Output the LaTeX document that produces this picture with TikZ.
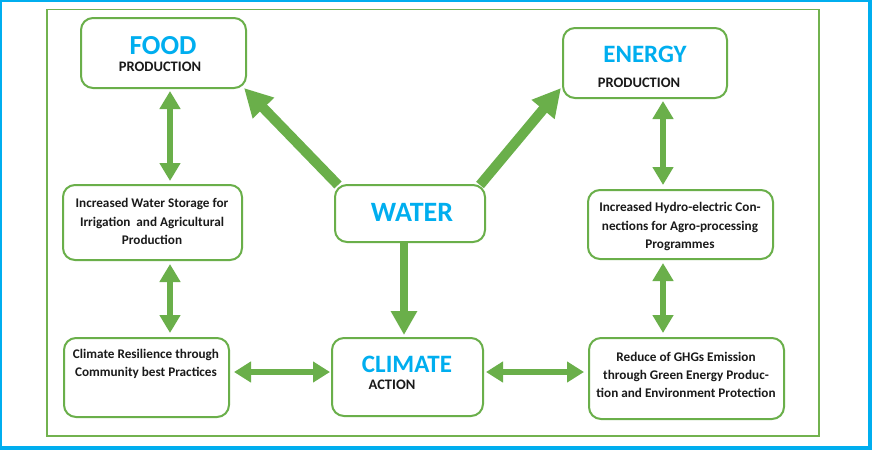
\documentclass[tikz,border=0pt]{standalone}
\usepackage{fontspec}
\setmainfont{Carlito}
\usetikzlibrary{arrows.meta}
\definecolor{grn}{HTML}{6AAF4A}
\definecolor{frm}{HTML}{72B24F}
\definecolor{sky}{HTML}{00AEEF}
\definecolor{ink}{HTML}{1A1A1A}
\pgfdeclarelayer{back}
\pgfdeclarelayer{mid}
\pgfsetlayers{back,mid,main}
\tikzset{
  box/.style={draw=grn, line width=2pt, rounded corners=12pt, fill=white, inner sep=0pt},
  big/.style={text=sky, font=\fontsize{27.5}{30}\selectfont\bfseries, inner sep=0pt},
  small/.style={text=ink, font=\fontsize{14.5}{15}\selectfont\bfseries, inner sep=0pt},
  body/.style={text=ink, font=\fontsize{13.2}{18.2}\selectfont\bfseries, align=center, inner sep=0pt},
  dbl/.style={draw=grn, line width=6pt, {Triangle[width=20pt,length=18pt]}-{Triangle[width=20pt,length=18pt]}},
  hdbl/.style={draw=grn, line width=5.5pt, {Triangle[width=20pt,length=17pt]}-{Triangle[width=20pt,length=17pt]}},
  sgl/.style={draw=grn, line width=8pt, -{Triangle[width=25pt,length=24pt]}},
  diag/.style={draw=grn, line width=10pt, -{Triangle[width=28pt,length=28pt]}},
}
\begin{document}
\begin{tikzpicture}[x=1pt,y=-1pt]
\useasboundingbox (0,0) rectangle (872,450);
% boxes
\node[box, minimum width=165pt, minimum height=70pt] (food) at (163.5,53) {};
\node[box, minimum width=164pt, minimum height=70pt] (energy) at (645,63) {};
\node[box, minimum width=150pt, minimum height=57pt] (water) at (410,213.5) {};
\node[box, minimum width=151pt, minimum height=78pt] (climate) at (407.5,377) {};
\node[box, minimum width=179pt, minimum height=75pt] (storage) at (152.5,222.5) {};
\node[box, minimum width=185pt, minimum height=69pt] (hydro) at (680.5,224.5) {};
\node[box, minimum width=165pt, minimum height=79pt] (resil) at (146.5,377.5) {};
\node[box, minimum width=195pt, minimum height=81pt] (reduce) at (686.5,378.5) {};
% texts
\node[big] (foodt) at (163,46) {FOOD};
\node[small] (foodp) at (160,66.5) {PRODUCTION};
\node[big, font=\fontsize{25}{30}\selectfont\bfseries] (energyt) at (645,54) {ENERGY};
\node[small] (energyp) at (639,82.5) {PRODUCTION};
\node[big, font=\fontsize{28}{30}\selectfont\bfseries] (watert) at (412,212.5) {WATER};
\node[big, font=\fontsize{25}{30}\selectfont\bfseries] (climatet) at (407,364.5) {CLIMATE};
\node[small] (climatea) at (392,384.5) {ACTION};
\node[body] (storaget) at (152,221.5) {Increased Water Storage for\\Irrigation\ \ and Agricultural\\Production};
\node[body] (hydrot) at (680,226.5) {Increased Hydro-electric Con-\\nections for Agro-processing\\Programmes};
\node[body] (resilt) at (146,364) {Climate Resilience through\\Community best Practices};
\node[body] (reducet) at (686,375) {Reduce of GHGs Emission\\through Green Energy Produc-\\tion and Environment Protection};
% frames
\begin{pgfonlayer}{back}
\fill[sky] (0,0) rectangle (872,450);
\fill[white] (2,2) rectangle (868,446);
\draw[frm, line width=1.8pt] (47,9.5) rectangle (819,436);
\end{pgfonlayer}
% connectors
\begin{pgfonlayer}{mid}
\draw[dbl, shorten <=2pt, shorten >=3pt] ([xshift=6.5pt]food.south) -- ([xshift=17.5pt]storage.north);
\draw[dbl, shorten <=3pt, shorten >=4pt] ([xshift=17.5pt]storage.south) -- ([xshift=23.5pt]resil.north);
\draw[dbl, shorten <=2pt, shorten >=4pt] ([xshift=18pt]energy.south) -- ([xshift=-17.5pt]hydro.north);
\draw[dbl, shorten <=3pt, shorten >=4pt] ([xshift=-17.5pt]hydro.south) -- ([xshift=-23.5pt]reduce.north);
\draw[hdbl, shorten <=4pt, shorten >=1pt] ([yshift=5.5pt]resil.east) -- ([yshift=5pt]climate.west);
\draw[hdbl, shorten <=2pt, shorten >=4pt] ([yshift=5pt]climate.east) -- ([yshift=6.5pt]reduce.west);
\draw[sgl, shorten >=2pt] ([xshift=-6pt]water.south) -- ([xshift=-3.5pt]climate.north);
\draw[diag] ([xshift=4pt,yshift=-1pt]water.north west) -- ([xshift=-3pt,yshift=1pt]food.south east);
\draw[diag] ([xshift=-6pt,yshift=-1pt]water.north east) -- ([xshift=-1pt,yshift=-25pt]energy.west);
\end{pgfonlayer}
\end{tikzpicture}
\end{document}
